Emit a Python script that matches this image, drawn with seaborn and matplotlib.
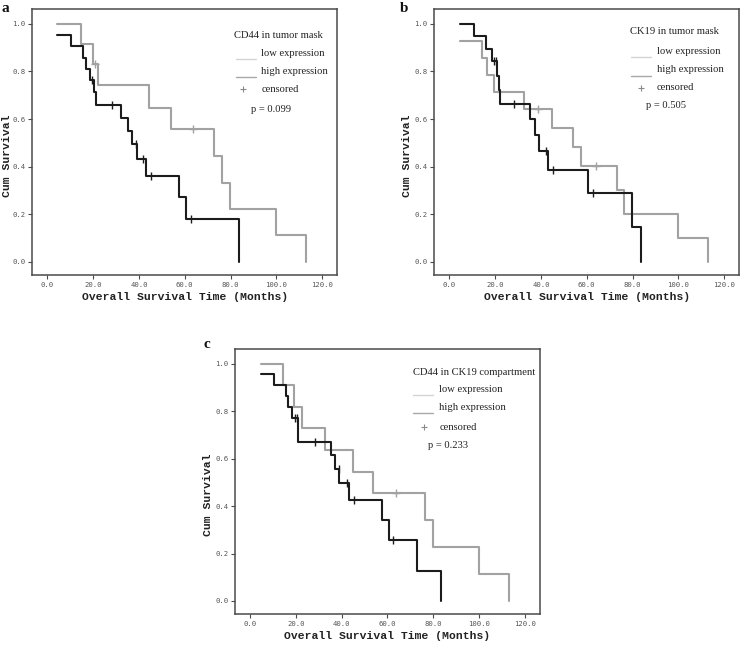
import matplotlib
matplotlib.use("Agg")
import matplotlib.pyplot as plt
import seaborn as sns
import pandas as pd
from matplotlib.lines import Line2D

# ---------------- data ----------------
x_ticks = [0, 20, 40, 60, 80, 100, 120]
x_tick_labels = ["0.0", "20.0", "40.0", "60.0", "80.0", "100.0", "120.0"]
y_ticks = [0.0, 0.2, 0.4, 0.6, 0.8, 1.0]
y_tick_labels = ["0.0", "0.2", "0.4", "0.6", "0.8", "1.0"]

# panel a : CD44 in tumor mask
a_low_t = [4.4, 14.6, 19.8, 22.3, 44.6, 53.8, 72.9, 76.2, 79.8, 100.0, 113.0]
a_low_s = [1.0, 0.917, 0.833, 0.741, 0.648, 0.556, 0.444, 0.333, 0.222, 0.111, 0.0]
a_low_ct = [20.8, 63.8]
a_low_cs = [0.833, 0.556]
a_high_t = [4.4, 10.5, 15.7, 16.8, 18.6, 20.4, 21.1, 32.4, 35.2, 36.8, 39.0, 43.2, 57.6, 60.4, 83.5]
a_high_s = [0.952, 0.905, 0.857, 0.810, 0.762, 0.714, 0.660, 0.605, 0.550, 0.495, 0.433, 0.361, 0.271, 0.180, 0.0]
a_high_ct = [19.4, 28.2, 38.9, 42.0, 45.5, 62.8]
a_high_cs = [0.762, 0.660, 0.495, 0.433, 0.361, 0.180]

# panel b : CK19 in tumor mask
b_low_t = [4.7, 14.4, 16.6, 19.7, 32.6, 44.7, 53.9, 57.7, 73.1, 76.3, 100.0, 113.1]
b_low_s = [0.929, 0.857, 0.786, 0.714, 0.643, 0.563, 0.482, 0.402, 0.301, 0.201, 0.100, 0.0]
b_low_ct = [38.9, 64.1]
b_low_cs = [0.643, 0.402]
b_high_t = [4.7, 10.9, 16.0, 18.5, 20.9, 21.5, 22.3, 35.2, 37.4, 39.2, 43.3, 60.7, 79.7, 83.6]
b_high_s = [1.0, 0.947, 0.895, 0.842, 0.782, 0.722, 0.662, 0.598, 0.532, 0.465, 0.386, 0.290, 0.145, 0.0]
b_high_ct = [19.5, 20.4, 28.3, 42.1, 45.4, 62.6]
b_high_cs = [0.842, 0.842, 0.662, 0.465, 0.386, 0.290]

# panel c : CD44 in CK19 compartment
c_low_t = [4.6, 14.3, 19.4, 22.6, 32.8, 45.1, 53.8, 76.4, 79.7, 99.8, 113.2]
c_low_s = [1.0, 0.909, 0.818, 0.727, 0.636, 0.545, 0.455, 0.341, 0.227, 0.114, 0.0]
c_low_ct = [63.7]
c_low_cs = [0.455]
c_high_t = [4.6, 10.5, 15.6, 16.7, 18.5, 21.1, 35.2, 37.1, 39.0, 43.3, 57.7, 60.7, 73.0, 83.3]
c_high_s = [0.955, 0.909, 0.864, 0.818, 0.773, 0.670, 0.614, 0.558, 0.497, 0.425, 0.340, 0.255, 0.128, 0.0]
c_high_ct = [19.6, 20.7, 28.4, 39.0, 42.2, 45.4, 62.5]
c_high_cs = [0.773, 0.773, 0.670, 0.558, 0.497, 0.425, 0.255]

titles = ["CD44 in tumor mask", "CK19 in tumor mask", "CD44 in CK19 compartment"]
p_values = ["p = 0.099", "p = 0.505", "p = 0.233"]
legend_items = ["low expression", "high expression", "censored"]
panel_letters = ["a", "b", "c"]

# ---------------- styling ----------------
sns.set_theme(style="white")
plt.rcParams["font.family"] = ["DejaVu Sans"]

W, H = 741, 645
fig = plt.figure(figsize=(W / 100, H / 100), dpi=100)
fig.patch.set_facecolor("white")

GRAY = "#a2a2a2"
BLACK = "#1c1c1c"
FRAME = "#4a4a4a"


def px_axes(l, t, r, b):
    return fig.add_axes([l / W, 1 - b / H, (r - l) / W, (b - t) / H])


def fx(x):
    return x / W


def fy(y):
    return 1 - y / H


def draw_panel(ax, width_px, ylab_off_px, low_t, low_s, low_ct, low_cs,
               high_t, high_s, high_ct, high_cs):
    dlow = pd.DataFrame({"t": low_t, "s": low_s})
    dhigh = pd.DataFrame({"t": high_t, "s": high_s})
    sns.lineplot(data=dlow, x="t", y="s", ax=ax, drawstyle="steps-post",
                 estimator=None, sort=False, color=GRAY, linewidth=1.5)
    sns.lineplot(data=dhigh, x="t", y="s", ax=ax, drawstyle="steps-post",
                 estimator=None, sort=False, color=BLACK, linewidth=1.5)
    ax.plot(low_ct, low_cs, ls="none", marker="+", ms=5.5, mew=1.0, color=GRAY)
    ax.plot(high_ct, high_cs, ls="none", marker="|", ms=5.5, mew=1.0, color=BLACK)
    ax.set_xlim(-6.5, 126.5)
    ax.set_ylim(-0.055, 1.062)
    ax.set_xticks(x_ticks)
    ax.set_xticklabels(x_tick_labels)
    ax.set_yticks(y_ticks)
    ax.set_yticklabels(y_tick_labels)
    ax.tick_params(axis="both", direction="out", length=3, width=0.8, color=FRAME,
                   labelsize=5.2, labelcolor="#555555", pad=2.0,
                   bottom=True, left=True)
    for lab in ax.get_xticklabels() + ax.get_yticklabels():
        lab.set_family("DejaVu Sans Mono")
    for sp in ax.spines.values():
        sp.set_color(FRAME)
        sp.set_linewidth(1.1)
    ax.set_xlabel("Overall Survival Time (Months)", family="Liberation Mono",
                  fontweight="bold", fontsize=8.2, color="#222222", labelpad=3)
    ax.set_ylabel("Cum Survival", family="Liberation Mono", fontweight="bold",
                  fontsize=8.2, color="#222222", va="center")
    ax.yaxis.set_label_coords(ylab_off_px / width_px, 0.45)
    ax.grid(False)


def draw_legend(title, p, tx, ty, lx, ly1, ly2, txt_x, ty1, ty2, px_, py_, cx, cy, pvx, pvy):
    serif = dict(family="Liberation Serif", fontsize=7.6, color="#222222",
                 ha="left", va="center")
    fig.text(fx(tx), fy(ty), title, **serif)
    fig.add_artist(Line2D([fx(lx), fx(lx + 20)], [fy(ly1), fy(ly1)],
                          color="#d4d4d4", lw=1.0))
    fig.add_artist(Line2D([fx(lx), fx(lx + 20)], [fy(ly2), fy(ly2)],
                          color="#a8a8a8", lw=1.0))
    fig.text(fx(txt_x), fy(ty1), legend_items[0], **serif)
    fig.text(fx(txt_x), fy(ty2), legend_items[1], **serif)
    fig.add_artist(Line2D([fx(px_)], [fy(py_)], marker="+", ms=5, mew=0.8,
                          color="#8a8a8a", ls="none"))
    fig.text(fx(cx), fy(cy), legend_items[2], **serif)
    fig.text(fx(pvx), fy(pvy), p, **serif)


ax_a = px_axes(32.4, 9, 337, 275)
draw_panel(ax_a, 304.6, -25, a_low_t, a_low_s, a_low_ct, a_low_cs,
           a_high_t, a_high_s, a_high_ct, a_high_cs)
ax_b = px_axes(434.4, 9, 739, 275)
draw_panel(ax_b, 304.6, -27, b_low_t, b_low_s, b_low_ct, b_low_cs,
           b_high_t, b_high_s, b_high_ct, b_high_cs)
ax_c = px_axes(235.1, 349, 539.7, 614)
draw_panel(ax_c, 304.6, -27, c_low_t, c_low_s, c_low_ct, c_low_cs,
           c_high_t, c_high_s, c_high_ct, c_high_cs)

draw_legend(titles[0], p_values[0], 234, 35, 236, 58.7, 76.7, 261, 53, 72, 243, 89, 262, 89, 251, 109)
draw_legend(titles[1], p_values[1], 630, 32, 631, 57, 76, 657, 51, 69, 641, 88, 657, 88, 646, 106)
draw_legend(titles[2], p_values[2], 413, 372, 413, 395, 413, 439, 390, 408, 424, 427, 440, 427, 428, 445)

letter = dict(family="Liberation Serif", fontweight="bold", fontsize=11,
              color="#111111", ha="center", va="center")
fig.text(fx(5), fy(8), panel_letters[0], **letter)
fig.text(fx(404), fy(8), panel_letters[1], **letter)
fig.text(fx(207), fy(344), panel_letters[2], **letter)

fig.savefig("out.png", dpi=100, facecolor="white")
